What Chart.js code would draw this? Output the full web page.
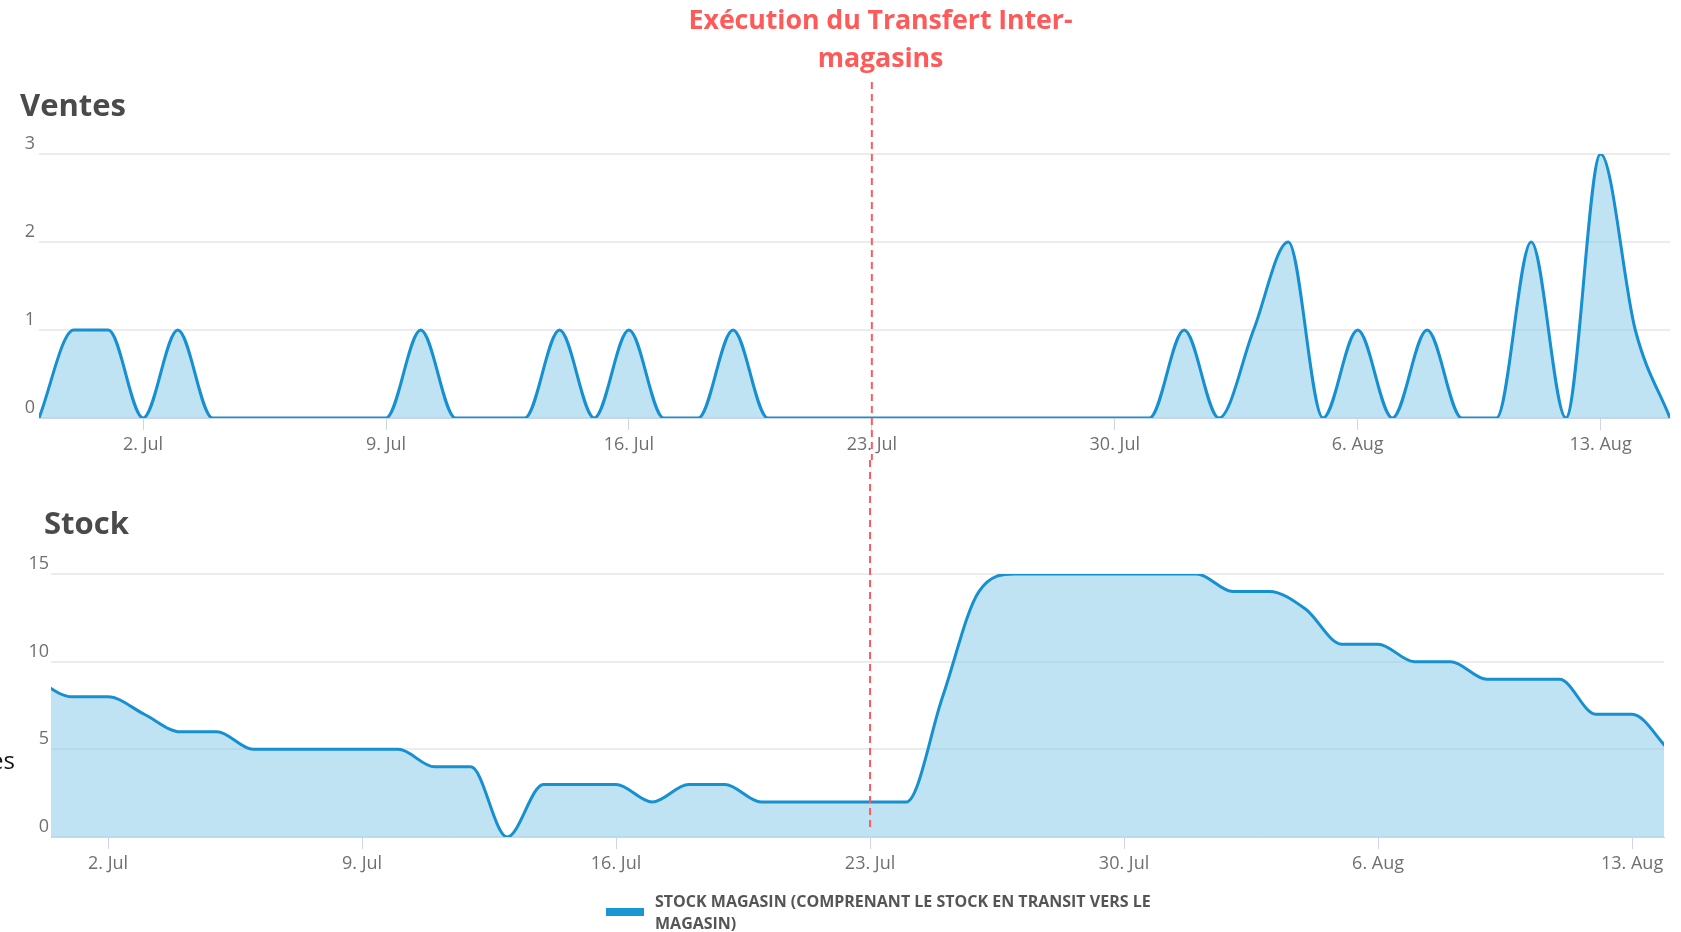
<!DOCTYPE html>
<html lang="fr">
<head>
<meta charset="utf-8">
<title>Ventes et stock</title>
<script src="https://cdn.jsdelivr.net/npm/chart.js@4.4.1/dist/chart.umd.min.js"></script>
<style>
  html, body { margin: 0; padding: 0; background: #fff; }
  body { width: 1681px; height: 932px; position: relative; overflow: hidden; font-family: 'Open Sans', sans-serif; }
  canvas { position: absolute; left: 0; }
  #ventesCanvas { top: 0; }
  #stockCanvas { top: 460px; }
  .titre { position: absolute; left: 580px; width: 601px; top: 0; text-align: center; color: #ff5a5a;
           font-weight: bold; font-size: 26.8px; line-height: 37.5px; letter-spacing: -0.1px; }
  .entete { position: absolute; color: #4a4a4a; font-weight: bold; font-size: 31px; line-height: 37px; }
  #enteteVentes { left: 20px; top: 86px; }
  #enteteStock { left: 44px; top: 504px; }
  .coupe { position: absolute; left: -100px; width: 115px; top: 745px; text-align: right; color: #111;
           font-size: 24px; line-height: 30px; }
  .legende-trait { position: absolute; left: 606px; top: 908px; width: 38px; height: 8px; background: #1a96d4; }
  .legende-texte { position: absolute; left: 655px; top: 890px; color: #555; font-weight: bold;
                   font-size: 16px; line-height: 22px; white-space: nowrap; }
</style>
</head>
<body>
<canvas id="ventesCanvas" width="1681" height="460"></canvas>
<canvas id="stockCanvas" width="1681" height="472"></canvas>

<div class="titre">Exécution du Transfert Inter-<br>magasins</div>
<div class="entete" id="enteteVentes">Ventes</div>
<div class="entete" id="enteteStock">Stock</div>
<div class="coupe">es</div>
<div class="legende-trait"></div>
<div class="legende-texte">STOCK MAGASIN (COMPRENANT LE STOCK EN TRANSIT VERS LE<br>MAGASIN)</div>

<script>
// jours comptés depuis le 1er juillet (0 = 1 Jul)
const tickJours = [1, 8, 15, 22, 29, 36, 43];
const tickLabels = ['2. Jul', '9. Jul', '16. Jul', '23. Jul', '30. Jul', '6. Aug', '13. Aug'];
const transfertJour = 22; // 23 Jul

// ventes journalières, du 29 Jun au 15 Aug
const ventesPremierJour = -2;
const ventes = [0, 1, 1, 0, 1, 0, 0, 0, 0, 0, 0, 1, 0, 0, 0, 1, 0, 1, 0, 0, 1,
                0, 0, 0, 0, 0, 0, 0, 0, 0, 0, 0, 0,
                1, 0, 1, 2, 0, 1, 0, 1, 0, 0, 2, 0, 3, 1, 0];

// stock magasin, du 30 Jun au 14 Aug
const stockPremierJour = -1;
const stock = [9, 8, 8, 7, 6, 6, 5, 5, 5, 5, 5, 4, 4, 0, 3, 3, 3, 2, 3, 3,
               2, 2, 2, 2, 2, 8, 14, 15, 15, 15, 15, 15, 15, 14, 14, 13, 11, 11,
               10, 10, 9, 9, 9, 7, 7, 5];

const bleu = '#1690d0';
const remplissage = 'rgba(130, 200, 232, 0.5)';
const police = "'Open Sans', sans-serif";

function points(premier, valeurs) {
  return valeurs.map((v, i) => ({ x: premier + i, y: v }));
}

const ligneTransfert = {
  id: 'ligneTransfert',
  afterDraw(chart, args, opts) {
    const x = chart.scales.x.getPixelForValue(transfertJour);
    const ctx = chart.ctx;
    ctx.save();
    ctx.strokeStyle = '#ff5a5f';
    ctx.lineWidth = 2;
    ctx.setLineDash([7, 5]);
    ctx.beginPath();
    ctx.moveTo(x, opts.haut);
    ctx.lineTo(x, opts.bas);
    ctx.stroke();
    ctx.restore();
  }
};

function options(cfg) {
  return {
    responsive: false,
    animation: false,
    layout: { padding: cfg.padding },
    plugins: {
      legend: { display: false },
      tooltip: { enabled: false },
      ligneTransfert: cfg.ligne
    },
    scales: {
      x: {
        type: 'linear',
        min: cfg.xMin,
        max: cfg.xMax,
        afterBuildTicks: s => { s.ticks = tickJours.map(v => ({ value: v })); },
        afterFit: s => { s.height = 42; },
        ticks: {
          autoSkip: false,
          maxRotation: 0,
          padding: 4,
          color: '#707070',
          font: { family: police, size: 18 },
          callback: (v, i) => tickLabels[i]
        },
        grid: { drawOnChartArea: false, tickLength: 12, color: '#ccd6eb' },
        border: { color: '#ccd6eb', width: 1 }
      },
      y: {
        min: 0,
        max: cfg.yMax,
        afterFit: s => { s.width = cfg.yLargeur; },
        ticks: {
          stepSize: cfg.yPas,
          padding: cfg.yPadding,
          labelOffset: -10,
          color: '#707070',
          font: { family: police, size: 18 }
        },
        grid: { color: '#ececec', lineWidth: 2, drawTicks: false },
        border: { display: false }
      }
    }
  };
}

new Chart(document.getElementById('ventesCanvas'), {
  type: 'line',
  data: {
    datasets: [{
      label: 'Ventes',
      data: points(ventesPremierJour, ventes),
      borderColor: bleu,
      backgroundColor: remplissage,
      borderWidth: 3,
      fill: 'origin',
      pointRadius: 0,
      cubicInterpolationMode: 'monotone'
    }]
  },
  options: options({
    padding: { top: 154, right: 11, bottom: 0, left: 0 },
    xMin: -2, xMax: 45,
    yMax: 3, yPas: 1, yLargeur: 39, yPadding: 4,
    ligne: { haut: 82, bas: 460 }
  }),
  plugins: [ligneTransfert]
});

new Chart(document.getElementById('stockCanvas'), {
  type: 'line',
  data: {
    datasets: [{
      label: 'STOCK MAGASIN (COMPRENANT LE STOCK EN TRANSIT VERS LE MAGASIN)',
      data: points(stockPremierJour, stock),
      borderColor: bleu,
      backgroundColor: remplissage,
      borderWidth: 3,
      fill: 'origin',
      pointRadius: 0,
      cubicInterpolationMode: 'monotone'
    }]
  },
  options: options({
    padding: { top: 114, right: 17, bottom: 53, left: 0 },
    xMin: -0.571, xMax: 43.88,
    yMax: 15, yPas: 5, yLargeur: 51, yPadding: 2,
    ligne: { haut: 0, bas: 369 }
  }),
  plugins: [ligneTransfert]
});
</script>
</body>
</html>
